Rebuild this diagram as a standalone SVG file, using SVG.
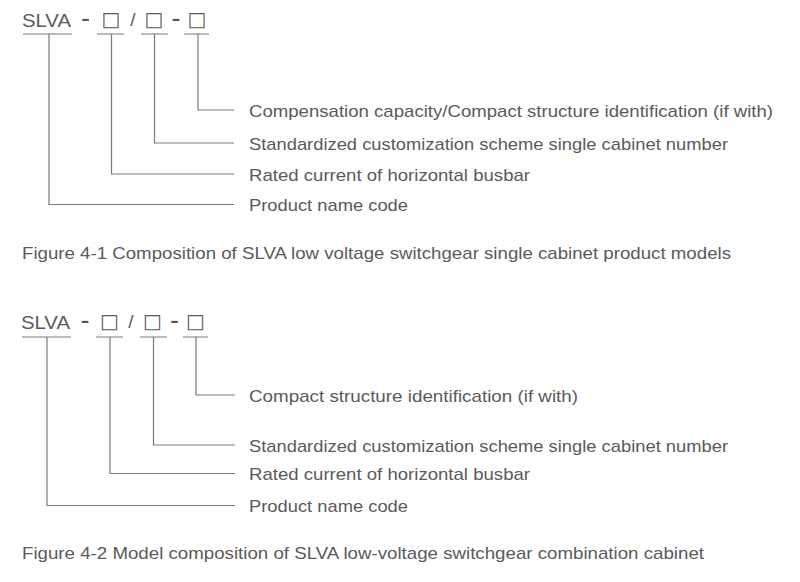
<svg xmlns="http://www.w3.org/2000/svg" width="800" height="582" viewBox="0 0 800 582">
<style>
text{font-family:"Liberation Sans","Noto Sans",Arial,sans-serif;fill:#5a5a5a;}
.code{font-size:19px;}
.dash{font-size:27px;}
.sq{font-family:"DejaVu Sans",sans-serif;font-size:20px;}
.lbl{font-size:17px;}
.cap{font-size:17px;}
.ln{fill:none;stroke:#7a7a7a;stroke-width:1.2;}
</style>
<rect width="800" height="582" fill="#fff"/>
<g id="fig1">
<g id="fig1-code">
<text class="code" x="22" y="27" textLength="49" lengthAdjust="spacingAndGlyphs">SLVA</text>
<text class="dash" x="85.5" y="27" text-anchor="middle">-</text>
<text class="sq" x="111" y="25.5" text-anchor="middle">□</text>
<text class="code" x="133" y="26" text-anchor="middle">/</text>
<text class="dash" x="176" y="27" text-anchor="middle">-</text>
<text class="sq" x="154" y="25.5" text-anchor="middle">□</text>
<text class="sq" x="197" y="25.5" text-anchor="middle">□</text>
</g>
<g id="fig1-connectors">
<path class="ln" d="M23 34H72M97 34H124M141 34H168M184 34H209"/>
<path class="ln" d="M198 34V110H234"/>
<path class="ln" d="M154.5 34V143H234"/>
<path class="ln" d="M111.5 34V174H234"/>
<path class="ln" d="M49 34V204.5H234"/>
</g>
<g id="fig1-label-comp"><text class="lbl" x="249" y="116.5" textLength="524" lengthAdjust="spacingAndGlyphs">Compensation capacity/Compact structure identification (if with)</text></g>
<g id="fig1-label-std"><text class="lbl" x="249" y="149.5" textLength="479" lengthAdjust="spacingAndGlyphs">Standardized customization scheme single cabinet number</text></g>
<g id="fig1-label-rated"><text class="lbl" x="249" y="180.5" textLength="281" lengthAdjust="spacingAndGlyphs">Rated current of horizontal busbar</text></g>
<g id="fig1-label-prod"><text class="lbl" x="249" y="211" textLength="159" lengthAdjust="spacingAndGlyphs">Product name code</text></g>
<g id="fig1-caption"><text class="cap" x="22" y="259" textLength="709" lengthAdjust="spacingAndGlyphs">Figure 4-1 Composition of SLVA low voltage switchgear single cabinet product models</text></g>
</g>
<g id="fig2">
<g id="fig2-code">
<text class="code" x="21" y="329" textLength="49" lengthAdjust="spacingAndGlyphs">SLVA</text>
<text class="dash" x="85" y="329" text-anchor="middle">-</text>
<text class="sq" x="109.5" y="327.5" text-anchor="middle">□</text>
<text class="code" x="131" y="328" text-anchor="middle">/</text>
<text class="dash" x="174.5" y="329" text-anchor="middle">-</text>
<text class="sq" x="152.5" y="327.5" text-anchor="middle">□</text>
<text class="sq" x="195.5" y="327.5" text-anchor="middle">□</text>
</g>
<g id="fig2-connectors">
<path class="ln" d="M22 337H71M96 337H123M140 337H167M183 337H208"/>
<path class="ln" d="M196 337V395H235"/>
<path class="ln" d="M153.5 337V445H235"/>
<path class="ln" d="M110 337V473.5H235"/>
<path class="ln" d="M47 337V505.5H235"/>
</g>
<g id="fig2-label-comp"><text class="lbl" x="249" y="401.5" textLength="329" lengthAdjust="spacingAndGlyphs">Compact structure identification (if with)</text></g>
<g id="fig2-label-std"><text class="lbl" x="249" y="451.5" textLength="479" lengthAdjust="spacingAndGlyphs">Standardized customization scheme single cabinet number</text></g>
<g id="fig2-label-rated"><text class="lbl" x="249" y="480" textLength="281" lengthAdjust="spacingAndGlyphs">Rated current of horizontal busbar</text></g>
<g id="fig2-label-prod"><text class="lbl" x="249" y="512" textLength="159" lengthAdjust="spacingAndGlyphs">Product name code</text></g>
<g id="fig2-caption"><text class="cap" x="22" y="559" textLength="682" lengthAdjust="spacingAndGlyphs">Figure 4-2 Model composition of SLVA low-voltage switchgear combination cabinet</text></g>
</g>
</svg>
